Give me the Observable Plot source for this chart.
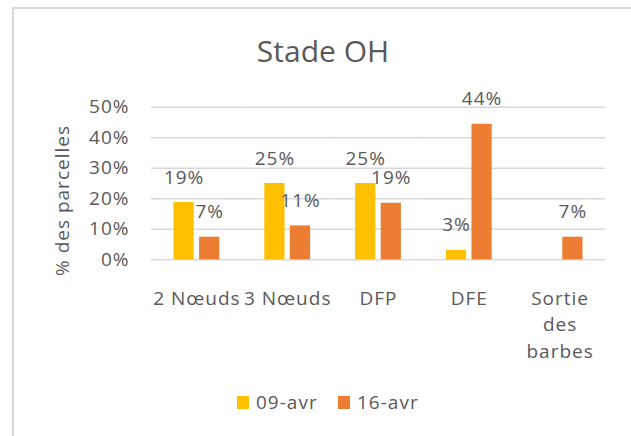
<!DOCTYPE html>
<html><head><meta charset="utf-8">
<script src="https://cdn.jsdelivr.net/npm/d3@7"></script>
<script src="https://cdn.jsdelivr.net/npm/@observablehq/plot@0.6"></script>
<style>
html,body{margin:0;padding:0;background:#fff;overflow:hidden}
#wrap{position:relative;width:631px;height:436px;font-family:"Open Sans",sans-serif;color:#595959}
#frame{position:absolute;left:12px;top:7px;width:700px;height:500px;border-left:2px solid #d9d9d9;border-top:2px solid #d9d9d9;box-sizing:border-box}
#title{position:relative;height:80px;box-sizing:border-box;padding-top:31px;padding-left:15px;line-height:40px;font-size:30px;text-align:center}
#chart{position:relative;height:290px}
#chart svg text{letter-spacing:1px}
#chart g[aria-label="ylabel"] text{letter-spacing:2.6px}
#legend{position:relative;height:66px;font-size:19px;letter-spacing:1px;line-height:20px}
.sw{position:absolute;top:26px;width:12px;height:13px}
.lt{position:absolute;top:22px;white-space:nowrap}
</style>
</head>
<body>
<div id="wrap">
  <div id="frame"></div>
  <div id="title">Stade OH</div>
  <div id="chart"></div>
  <div id="legend"></div>
</div>
<script>
const titleText = "Stade OH";
const yLabel = "% des parcelles";
const categories = ["2 Nœuds", "3 Nœuds", "DFP", "DFE", "Sortie\ndes\nbarbes"];
const series = ["09-avr", "16-avr"];
const colors = ["#FFC000", "#ED7D31"];
const values09 = [0.1875, 0.25, 0.25, 0.031, null];
const values16 = [0.074, 0.111, 0.1852, 0.444, 0.074];
const yTicks = [0, 0.1, 0.2, 0.3, 0.4, 0.5];

const pct = d3.format(".0%");
const valuesBySeries = [values09, values16];
const data = [];
categories.forEach((cat, i) => {
  series.forEach((s, j) => {
    const v = valuesBySeries[j][i];
    if (v != null) data.push({cat, series: s, value: v});
  });
});

document.getElementById("title").textContent = titleText;

const chart = Plot.plot({
  width: 631,
  height: 290,
  marginLeft: 151,
  marginRight: 26,
  marginTop: 26.7,
  marginBottom: 110.7,
  style: {fontFamily: '"Open Sans", sans-serif', fontSize: "19px", color: "#595959", background: "transparent"},
  fx: {domain: categories, padding: 0, round: false, label: null},
  x: {domain: series, paddingInner: 0.21, paddingOuter: 0.88, round: false, axis: null},
  y: {domain: [0, 0.5], axis: null},
  color: {domain: series, range: colors},
  marks: [
    Plot.gridY(yTicks, {stroke: "#d9d9d9", strokeOpacity: 1, strokeWidth: 1.5}),
    Plot.axisY(yTicks, {tickSize: 0, tickPadding: 22, tickFormat: pct, label: null, fill: "#595959"}),
    Plot.axisFx({anchor: "bottom", tickSize: 0, tickPadding: 26, label: null, lineHeight: 1.4, fill: "#595959"}),
    Plot.barY(data, {fx: "cat", x: "series", y: "value", fill: "series"}),
    Plot.text(data, {fx: "cat", x: "series", y: "value", text: d => pct(d.value), dy: -25, fill: "#595959"}),
    Plot.text([yLabel], {fx: () => categories[0], frameAnchor: "left", textAnchor: "middle", rotate: -90, dx: -89, dy: 17, fontSize: 19, ariaLabel: "ylabel", fill: "#595959"})
  ]
});
document.getElementById("chart").appendChild(chart);

const legend = document.getElementById("legend");
const swLeft = [237, 338];
const txtLeft = [256, 357];
series.forEach((s, i) => {
  const sw = document.createElement("div");
  sw.className = "sw";
  sw.style.left = swLeft[i] + "px";
  sw.style.background = colors[i];
  legend.appendChild(sw);
  const t = document.createElement("div");
  t.className = "lt";
  t.style.left = txtLeft[i] + "px";
  t.textContent = s;
  legend.appendChild(t);
});
</script>
</body></html>
